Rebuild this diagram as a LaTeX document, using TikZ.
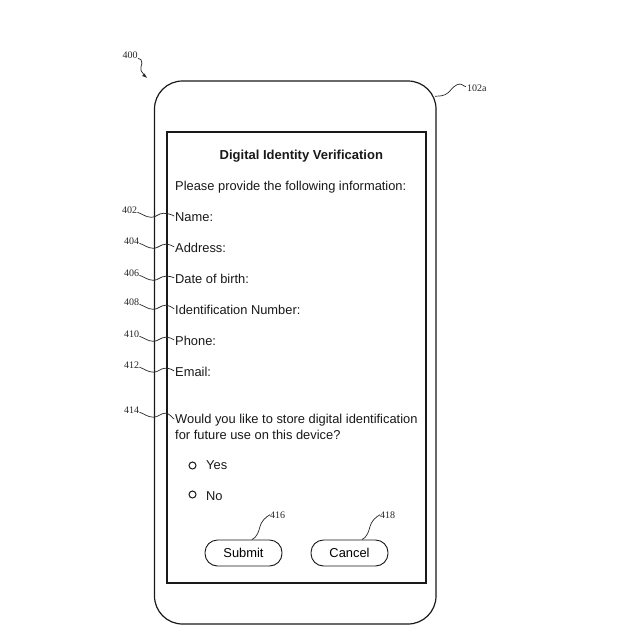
\documentclass[tikz,border=0pt]{standalone}
\usepackage{fontspec}
\setmainfont{Liberation Sans}
\newfontfamily\reffont{Liberation Serif}
\begin{document}
\begin{tikzpicture}[x=1pt,y=-1pt,
  txt/.style={anchor=base west,inner sep=0pt,font=\fontsize{12.87}{15}\selectfont,text=black!90},
  reflabel/.style={anchor=base west,inner sep=0pt,font=\reffont\fontsize{10}{11}\selectfont,text=black!85},
  lead/.style={line width=0.7pt,black!85},
  frame/.style={line width=1.2pt,black!90},
  btn/.style={draw=black!90,line width=0.9pt,rounded corners=12.5pt,minimum width=77pt,minimum height=26pt,inner sep=0pt,font=\fontsize{12.87}{15}\selectfont},
  radio/.style={circle,draw=black!90,line width=1pt,minimum size=7pt,inner sep=0pt}]
\useasboundingbox (0,0) rectangle (634,634);
\fill[white] (0,0) rectangle (634,634);
\draw[frame,rounded corners=28pt] (154.5,81) rectangle (436,624);
\draw[frame] (167,132) rectangle (426,583);
\node[txt,font=\bfseries\fontsize{13}{15}\selectfont] (title) at (219.5,159.5) {Digital Identity Verification};
\node[txt] (intro) at (175,190.5) {Please provide the following information:};
\node[txt] (n402) at (175,221) {Name:};
\node[txt] (n404) at (175,252) {Address:};
\node[txt] (n406) at (175,283) {Date of birth:};
\node[txt] (n408) at (175,314) {Identification Number:};
\node[txt] (n410) at (175,345) {Phone:};
\node[txt] (n412) at (175,376) {Email:};
\node[txt] (n414) at (175,423) {Would you like to store digital identification};
\node[txt] (q2) at (175,439) {for future use on this device?};
\node[radio] (ryes) at (192.5,465.5) {};
\node[radio] (rno) at (192.5,494.5) {};
\node[txt] (yes) at (206,469) {Yes};
\node[txt] (no) at (206,500) {No};
\node[btn] (submit) at (243.5,553) {Submit};
\node[btn] (cancel) at (349.5,553) {Cancel};
\node[reflabel] (l400) at (122.5,59) {400};
\node[reflabel] (l102) at (467,91) {102a};
\node[reflabel] (l402) at (122,213) {402};
\node[reflabel] (l404) at (124,244) {404};
\node[reflabel] (l406) at (124,276) {406};
\node[reflabel] (l408) at (124,305) {408};
\node[reflabel] (l410) at (124,337) {410};
\node[reflabel] (l412) at (124,368) {412};
\node[reflabel] (l414) at (124,413) {414};
\node[reflabel] (l416) at (270,518) {416};
\node[reflabel] (l418) at (380,518) {418};
\coordinate (t400) at (146.5,77.5);
\draw[lead] (l400.south east) ++(0,-1) .. controls +(3,0) and +(0,-3) .. ++(4,5) .. controls +(0,3) and +(-1,-3) .. ++(-1,7) .. controls +(1,2) and +(-1,-1) .. (t400);
\fill[black!85] (t400) -- ++(-4.5,-1.5) -- ++(2.5,-2.5) -- cycle;
\foreach \k in {402,404,406,408,410,412,414}{
  \draw[lead,shorten >=1pt] (l\k.south east) ++(0,-1) .. controls +(4,1) and +(-6,0) .. ++(14,5) .. controls +(5,0) and +(-5,0) .. ++(12,-4) .. controls +(4,0) and +(-3,-2) .. (n\k.west);
}
\draw[lead] (submit.north) ++(8.5,0) .. controls +(5,-2) and +(-1,4) .. ++(8,-13) .. controls +(1,-5) and +(-4,2) .. (l416.west);
\draw[lead] (cancel.north) ++(12.5,0) .. controls +(5,-2) and +(-1,4) .. ++(8,-13) .. controls +(1,-5) and +(-4,2) .. (l418.west);
\draw[lead] (l102.west) ++(-1,-1) .. controls +(-4,-1) and +(5,-2) .. ++(-9,-2) .. controls +(-5,2) and +(5,-2) .. ++(-12,10) .. controls +(-4,1.5) and +(3,0) .. ++(-10,1.5);
\end{tikzpicture}
\end{document}
